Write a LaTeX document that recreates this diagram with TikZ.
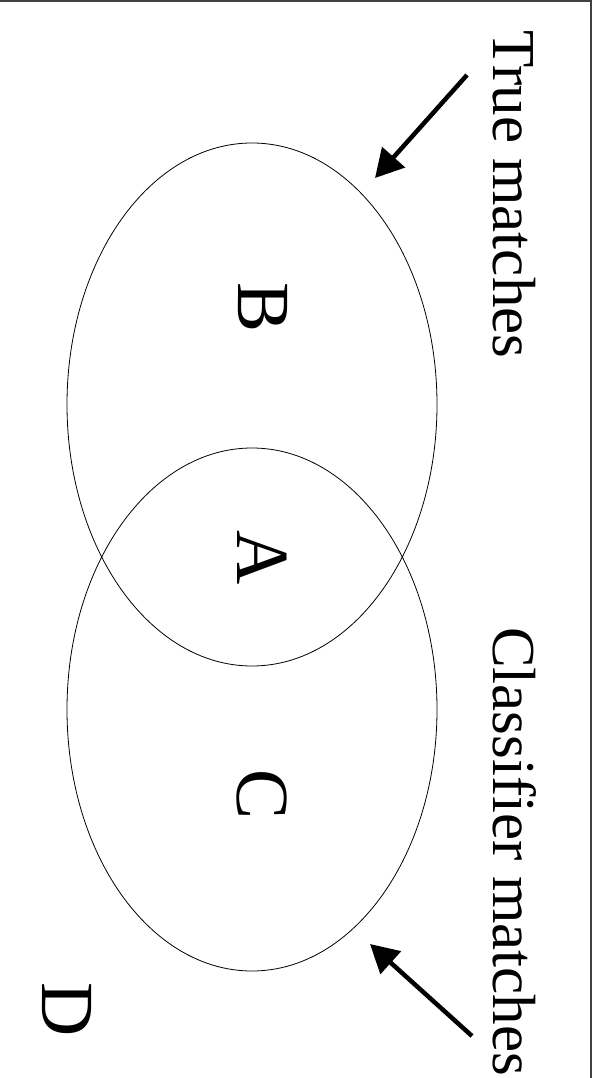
\documentclass[tikz,border=0pt]{standalone}
\usepackage{fontspec}
\setmainfont{Liberation Serif}
\usepackage{tikz}
\usetikzlibrary{arrows.meta}
\usetikzlibrary{backgrounds}
\usetikzlibrary{shapes,shapes.geometric}
\pgfdeclarelayer{edgelayer}
\pgfdeclarelayer{nodelayer}
\pgfsetlayers{background,edgelayer,nodelayer,main}
\tikzstyle{vennset}=[draw=black,line width=0.8pt,shape=ellipse,minimum width=370pt,minimum height=523pt,inner sep=0pt]
\tikzstyle{region}=[rotate=-90,inner sep=0pt,font=\fontsize{75}{80}\selectfont]
\tikzstyle{caption}=[rotate=-90,inner sep=0pt,anchor=base west,font=\fontsize{61}{66}\selectfont]
\tikzstyle{pointer}=[line width=4.5pt,-{Triangle[length=28pt,width=30pt]}]
\tikzstyle{frame}=[draw=black!75,line width=1.4pt]

\begin{document}
\begin{tikzpicture}[x=1pt,y=-1pt]
	\useasboundingbox (0,0) rectangle (597,1078);
	\begin{pgfonlayer}{nodelayer}
		\node [style=vennset] (tm) at (252, 404.5) {};
		\node [style=vennset] (cm) at (252, 709.5) {};
		\node [style=region] (B) at (263, 308) {B};
		\node [style=region] (A) at (262, 558) {A};
		\node [style=region] (C) at (262, 795) {C};
		\node [style=region] (D) at (67, 1010) {D};
		\node [style=caption] (tmtext) at (493, 30) {True matches};
		\node [style=caption] (cmtext) at (493, 627) {Classifier matches};
		\coordinate (tmtail) at (467, 75);
		\coordinate (tmhead) at (375, 178);
		\coordinate (cmtail) at (472, 1036);
		\coordinate (cmhead) at (370, 944);
	\end{pgfonlayer}
	\begin{pgfonlayer}{edgelayer}
		\draw [style=pointer] (tmtail) to (tmhead);
		\draw [style=pointer] (cmtail) to (cmhead);
		\draw [style=frame] (0, 1) -- (591, 1) -- (591, 1078);
	\end{pgfonlayer}
\end{tikzpicture}
\end{document}
